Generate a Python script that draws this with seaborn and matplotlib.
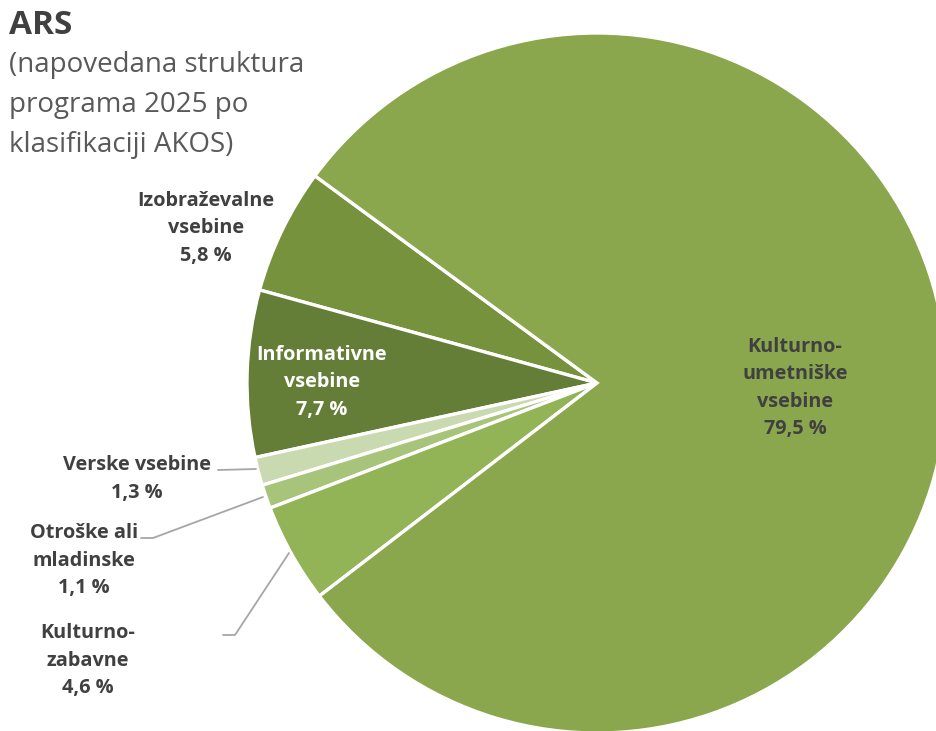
import matplotlib
matplotlib.use("Agg")
import matplotlib.pyplot as plt
import seaborn as sns

# ---- data ----
categories = ["Izobraževalne vsebine", "Informativne vsebine", "Verske vsebine",
              "Otroške ali mladinske", "Kulturno-zabavne", "Kulturno-umetniške vsebine"]
values = [5.8, 7.7, 1.3, 1.1, 4.6, 79.5]
label_texts = ["Izobraževalne\nvsebine\n5,8 %", "Informativne\nvsebine\n7,7 %",
               "Verske vsebine\n1,3 %", "Otroške ali\nmladinske\n1,1 %",
               "Kulturno-\nzabavne\n4,6 %", "Kulturno-\numetniške\nvsebine\n79,5 %"]
title = "ARS"
subtitle = "(napovedana struktura\nprograma 2025 po\nklasifikaciji AKOS)"

sns.set_theme(style="white")
plt.rcParams['font.family'] = ['Open Sans', 'DejaVu Sans']

palette = ["#76923C", "#647E38", "#C9DAB0", "#A8C47A", "#92B356", "#8BA74E"]

W, H = 936, 731
fig = plt.figure(figsize=(W / 100, H / 100), dpi=100)
ax = fig.add_axes([0, 0, 1, 1])

def P(x, y):
    return (x, H - y)

cx, cy = P(597, 383)
R = 350
start = 143.7
ax.pie(values, colors=palette, startangle=start, counterclock=True,
       center=(cx, cy), radius=R,
       wedgeprops=dict(edgecolor="white", linewidth=2.4), frame=True)
ax.set_xlim(0, W)
ax.set_ylim(0, H)
ax.set_aspect("equal")
ax.axis("off")

txt_kw = dict(fontsize=14.3, fontweight="bold", ha="center", va="center",
              linespacing=1.5)
label_pos = [(206, 228), (322, 382), (137, 479), (84, 561), (88, 661), (795, 388)]
label_col = ["#404040", "white", "#404040", "#404040", "#404040", "#404040"]
for t, (x, y), c in zip(label_texts, label_pos, label_col):
    ax.text(*P(x, y), t, color=c, **txt_kw)

# leader lines
line_kw = dict(color="#a6a6a6", linewidth=1.3)
ax.plot(*zip(P(218, 470), P(256, 469)), **line_kw)
ax.plot(*zip(P(141, 538), P(153, 538), P(263, 497)), **line_kw)
ax.plot(*zip(P(223, 635), P(235, 635), P(289, 553)), **line_kw)

ax.text(*P(9, 25), title, fontsize=24, fontweight="bold", color="#404040",
        ha="left", va="center")
ax.text(*P(9, 105), subtitle, fontsize=20, color="#595959", ha="left",
        va="center", linespacing=1.55)

fig.savefig("out.png", dpi=100)
